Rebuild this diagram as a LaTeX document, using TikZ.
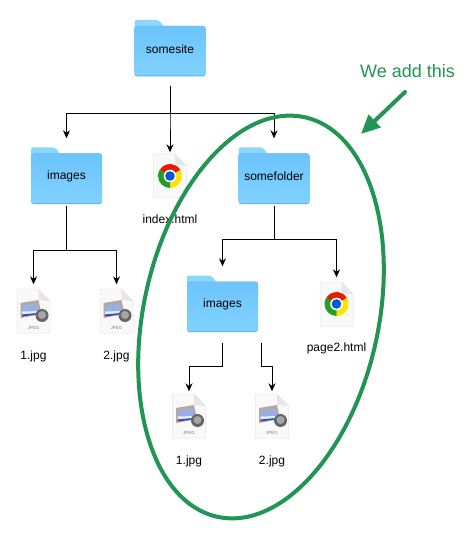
\documentclass[tikz,border=0pt]{standalone}
\usepackage{fontspec}
\setmainfont{Liberation Sans}
\usepackage{xcolor}
\usetikzlibrary{arrows.meta, positioning, shapes.geometric}
\definecolor{mgreen}{RGB}{34, 148, 84}
\definecolor{mfolderA}{RGB}{108, 196, 252}
\definecolor{mfolderB}{RGB}{128, 210, 255}
\definecolor{mtab}{RGB}{142, 214, 251}
\definecolor{medge}{RGB}{92, 176, 228}
\definecolor{mpage}{RGB}{249, 249, 249}
\definecolor{mfold}{RGB}{230, 230, 230}
\newcommand{\pagesheet}{%
  \fill[mpage, draw=mfold, line width=0.5pt] (-16.5,22) -- (5,22) -- (16.5,10) -- (16.5,-22) -- (-16.5,-22) -- cycle;
  \fill[mfold] (5,22) -- (5,11) -- (16.5,10) -- cycle;
}
\newcommand{\chromemark}{%
  \fill[red!75!orange!90!black] (0,0) -- (150:12) arc (150:30:12) -- cycle;
  \fill[yellow!85!orange] (0,0) -- (30:12) arc (30:-90:12) -- cycle;
  \fill[green!55!black!85!white] (0,0) -- (-90:12) arc (-90:-210:12) -- cycle;
  \fill[white] (0,0) circle (6.3);
  \fill[blue!55!cyan!80!black] (0,0) circle (4.8);
}
\newcommand{\jpegmark}{%
  \fill[brown!45!gray!70!white] (-13,8) -- (5,11) -- (8,-3) -- (-13,-7) -- cycle;
  \fill[cyan!40!blue!40!white] (-11.5,6) -- (4,8.5) -- (6,-3) -- (-11.5,-5.5) -- cycle;
  \fill[white!85!cyan] (-11.5,-0.5) -- (5.5,0) -- (5,-2) -- (-11.5,-3.5) -- cycle;
  \fill[blue!50!gray] (-11.5,-3.5) -- (5,-2) -- (6,-3) -- (-11.5,-5.5) -- cycle;
  \fill[black!60] (8.5,-4.5) circle (6.5);
  \fill[black!35] (8.5,-4) circle (4);
  \node[text=gray, font=\fontsize{4.5}{5}\selectfont, inner sep=0pt] at (0,-16.5) {JPEG};
}
\begin{document}
\begin{tikzpicture}[
      x=1pt, y=-1pt,
      every label/.append style={font=\fontsize{12}{14}\selectfont, inner sep=0pt},
      folder/.style={minimum width=71pt, minimum height=58pt, inner sep=0pt,
                     path picture={
                       \begin{scope}[shift={(path picture bounding box.center)}, y=1pt]
                         \fill[mtab, rounded corners=2pt] (-35.5,29) -- (-11,29) -- (-6,22) -- (-6,10) -- (-35.5,10) -- cycle;
                         \fill[medge, rounded corners=2.5pt] (-35.5,23) rectangle (35.5,-27.5);
                         \shade[top color=mfolderA, bottom color=mfolderB, rounded corners=2.5pt] (-35.5,23) rectangle (35.5,-26.5);
                       \end{scope}}},
      webfile/.style={minimum width=34pt, minimum height=45pt, inner sep=0pt,
                     path picture={
                       \begin{scope}[shift={(path picture bounding box.center)}, y=1pt]
                         \pagesheet \chromemark
                       \end{scope}}},
      photofile/.style={minimum width=34pt, minimum height=45pt, inner sep=0pt,
                     path picture={
                       \begin{scope}[shift={(path picture bounding box.center)}, y=1pt]
                         \pagesheet \jpegmark
                       \end{scope}}},
      filename/.style={font=\fontsize{12}{14}\selectfont, inner sep=0pt, text height=9pt, text depth=2.5pt},
      arr/.style={-{Stealth[length=8pt, width=7pt]}, line width=1pt},
      ringbox/.style={draw=mgreen, line width=4pt, ellipse, inner sep=0pt,
                      minimum width=235pt, minimum height=409pt, rotate=-12.3},
      addarr/.style={-{Triangle[length=19pt, width=17pt]}, draw=mgreen, fill=mgreen, line width=4pt, line cap=round},
    ]
      \useasboundingbox (0,0) rectangle (470,553);
      \node[folder, label=center:somesite]    (site)       at (170,49)    {};
      \node[folder, label=center:images]      (imagesA)    at (66.5,176.5)  {};
      \node[webfile]   (indexPage)  at (170,176)   {};
      \node[folder, label=center:somefolder]  (someFolder) at (274,176.5)   {};
      \node[photofile] (oneA)       at (33.5,311)  {};
      \node[photofile] (twoA)       at (116.5,311) {};
      \node[folder, label=center:images]      (imagesB)    at (222.5,304.5) {};
      \node[webfile]   (pageTwo)    at (336.5,304) {};
      \node[photofile] (oneB)       at (189,416)   {};
      \node[photofile] (twoB)       at (272,416)   {};
      \node[filename, below=15.5pt of indexPage] (indexName) {index.html};
      \node[filename, below=17pt of oneA]    (oneAName)  {1.jpg};
      \node[filename, below=17pt of twoA]    (twoAName)  {2.jpg};
      \node[filename, below=16pt of pageTwo] (pageName)  {page2.html};
      \node[filename, below=17pt of oneB]    (oneBName)  {1.jpg};
      \node[filename, below=17pt of twoB]    (twoBName)  {2.jpg};
      \foreach \target/\gap in {imagesA/9, indexPage/1, someFolder/9}
        \draw[arr, shorten <=8pt, shorten >=\gap pt] (site.south) -- ++(0,35) -| (\target.north);
      \foreach \target in {oneA, twoA}
        \draw[arr, shorten >=4pt] (imagesA.south) -- ++(0,45) -| (\target.north);
      \draw[arr, shorten >=9pt] (someFolder.south) -- ++(0,34) -| (imagesB.north);
      \draw[arr, shorten >=4pt] (someFolder.south) -- ++(0,34) -| (pageTwo.north);
      \draw[arr, shorten <=9pt, shorten >=2pt] (imagesB.south) -- ++(0,33) -| (oneB.north);
      \draw[arr, shorten <=9pt, shorten >=2pt] ([xshift=39pt]imagesB.south) -- ++(0,33) -| (twoB.north);
      \node[ringbox] (added) at (261,317) {};
      \node[font=\fontsize{18}{20}\selectfont, text=mgreen] (addLabel) at (407.5,71) {We add this};
      \coordinate (addStart) at (405,92);
      \coordinate (addEnd) at (361,134);
      \draw[addarr] (addStart) -- (addEnd);
    \end{tikzpicture}
\end{document}
